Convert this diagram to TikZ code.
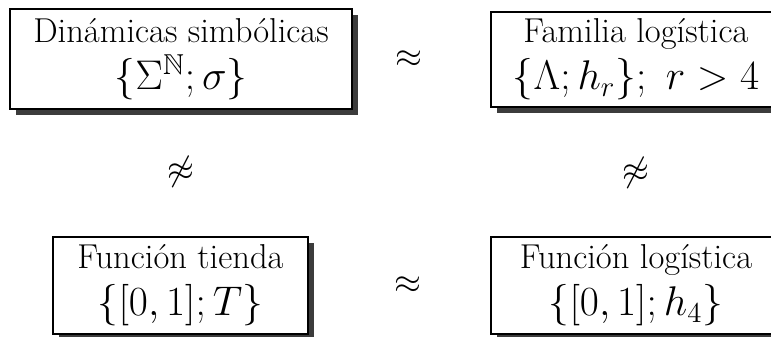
\documentclass[tikz,border=0pt]{standalone}
\usepackage{amsmath,amssymb}
\usepackage{xcolor}
\definecolor{cLine}{HTML}{000000}
\definecolor{cShadow}{HTML}{3C3C3C}
\usepackage{tikz}
\usetikzlibrary{positioning,calc,shadows}
\newcommand{\boxhead}[1]{{\fontsize{17.28}{22}\selectfont #1}}
\tikzset{
  node-box/.style={draw=cLine,line width=1pt,fill=white,align=center,
    font=\fontsize{20.74}{22}\selectfont,inner sep=0pt,
    drop shadow={shadow xshift=3pt,shadow yshift=-3pt,opacity=1,fill=cShadow}},
  node-rel/.style={font=\fontsize{17.28}{18}\selectfont,inner sep=0pt},
}

\begin{document}
\begin{tikzpicture}[x=0.5pt,y=-0.5pt]
  \useasboundingbox (0,0) rectangle (771,337);
  \clip (0,0) rectangle (771,337);
  % cajas
  \node[node-box,minimum width=171pt,minimum height=50pt] (dinsim) at (181,59)
    {\boxhead{Din\'amicas simb\'olicas}\\[1.5pt]$\{\Sigma^{\mathbb{N}};\sigma\}$};
  \node[node-box,minimum width=145pt,minimum height=47.5pt] (famlog) at (636,59.5)
    {\boxhead{Familia log\'istica}\\[1.5pt]$\{\Lambda;h_r\};~r>4$};
  \node[node-box,minimum width=127.5pt,minimum height=48.5pt] (tienda) at (180.5,285.5)
    {\boxhead{Funci\'on tienda}\\[1.5pt]$\{[0,1];T\}$};
  \node[node-box,minimum width=145pt,minimum height=48.5pt] (funlog) at (636,285.5)
    {\boxhead{Funci\'on log\'istica}\\[1.5pt]$\{[0,1];h_4\}$};
  % relaciones
  \node[node-rel] (eqtop) at ($(dinsim)!0.5!(famlog)$) {$\approx$};
  \node[node-rel] (eqbot) at ($(tienda)!0.5!(funlog)$) {$\approx$};
  \node[node-rel] (neqleft) at ($(dinsim)!0.5!(tienda)$) {$\not\approx$};
  \node[node-rel] (neqright) at ($(famlog)!0.5!(funlog)$) {$\not\approx$};
\end{tikzpicture}
\end{document}
